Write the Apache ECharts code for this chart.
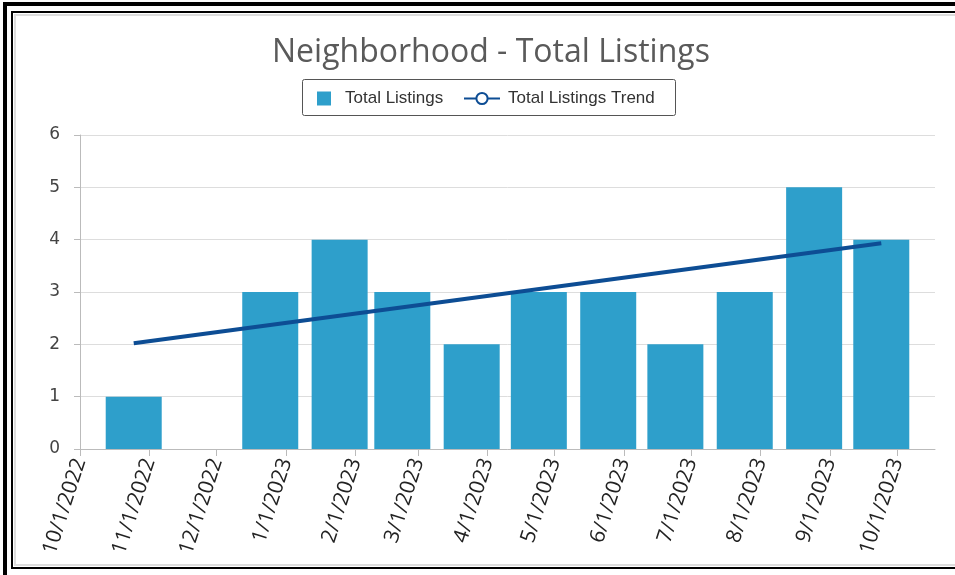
<!DOCTYPE html>
<html>
<head>
<meta charset="utf-8">
<script src="https://cdn.jsdelivr.net/npm/echarts@6/dist/echarts.min.js"></script>
<style>
  html, body { margin: 0; padding: 0; background: #fff; }
  #chart { width: 955px; height: 575px; }
</style>
</head>
<body>
<div id="chart"></div>
<script>
// monthly listings (bars) and the fitted trend line end points
const months = ['2022-11-01', '2022-12-01', '2023-01-01', '2023-02-01', '2023-03-01', '2023-04-01',
  '2023-05-01', '2023-06-01', '2023-07-01', '2023-08-01', '2023-09-01', '2023-10-01']
const totalListings = [1, 0, 3, 4, 3, 2, 3, 3, 2, 3, 5, 4]
const trendDates = ['2022-11-01', '2023-10-01']
const trendValues = [2.02, 3.93]
const yTicks = [0, 1, 2, 3, 4, 5, 6]

const axisStart = '2022-10-01'
const axisEnd = '2023-10-18'
// bars sit about a week left of their month tick in the source chart
const DAY = 86400000
const barShift = 7 * DAY

const barColor = '#2e9fcb'
const trendColor = '#0d4d94'

const toMs = s => +echarts.time.parse(s)

const chart = echarts.init(document.getElementById('chart'), null, { renderer: 'canvas' })

const barData = months.map((m, i) => [toMs(m), totalListings[i]]).filter(d => d[1] > 0)
const trendData = trendDates.map((d, i) => [toMs(d), trendValues[i]])

const option = {
  animation: false,
  backgroundColor: '#fff',
  title: {
    text: 'Neighborhood - Total Listings',
    left: 267,
    top: 32,
    textStyle: { fontFamily: 'Open Sans', fontWeight: 'normal', fontSize: 32, color: '#5a5a5a' }
  },
  legend: [
    {
      data: ['Total Listings'],
      left: 317, top: 90, padding: 0,
      itemWidth: 14, itemHeight: 14, icon: 'rect',
      textStyle: { fontFamily: 'Liberation Sans', fontSize: 17, color: '#333', padding: [0, 0, 0, 9] }
    },
    {
      data: ['Total Listings Trend'],
      left: 463, top: 90, padding: 0,
      itemWidth: 36, itemHeight: 14,
      textStyle: { fontFamily: 'Liberation Sans', fontSize: 17, color: '#333', padding: [0, 0, 0, 3] }
    }
  ],
  grid: { left: 80, right: 20, top: 135, bottom: 126 },
  xAxis: [
    {
      type: 'time',
      min: axisStart,
      max: axisEnd,
      minInterval: 28 * DAY,
      maxInterval: 31 * DAY,
      axisLine: { lineStyle: { color: '#bbb' } },
      axisTick: { show: true, length: 7, lineStyle: { color: '#bbb' } },
      axisLabel: {
        rotate: 72,
        margin: 10,
        formatter: '{M}/{d}/{yyyy}',
        fontFamily: 'Open Sans',
        fontSize: 21,
        color: '#222',
        hideOverlap: false
      },
      splitLine: { show: false }
    },
    {
      // plain value axis in ms, shifted by a week, so bars are not padded like on a time axis
      type: 'value',
      show: false,
      min: toMs(axisStart) + barShift,
      max: toMs(axisEnd) + barShift
    }
  ],
  yAxis: {
    type: 'value',
    min: yTicks[0],
    max: yTicks[yTicks.length - 1],
    interval: 1,
    axisLine: { show: true, lineStyle: { color: '#bbb' } },
    axisTick: { show: true, length: 6, lineStyle: { color: '#bbb' } },
    axisLabel: { fontFamily: 'DejaVu Sans', fontSize: 17, color: '#444', margin: 20 },
    splitLine: { lineStyle: { color: '#ddd' } }
  },
  series: [
    {
      name: 'Total Listings',
      type: 'bar',
      xAxisIndex: 1,
      barWidth: 56,
      itemStyle: { color: barColor },
      data: barData
    },
    {
      name: 'Total Listings Trend',
      type: 'line',
      xAxisIndex: 1,
      symbol: 'emptyCircle',
      symbolSize: 11,
      showSymbol: false,
      lineStyle: { color: trendColor, width: 4 },
      itemStyle: { color: trendColor, borderWidth: 1.5 },
      data: trendData
    }
  ],
  graphic: [
    // page frame around the chart
    { type: 'rect', shape: { x: 3, y: 2, width: 4, height: 575 }, style: { fill: '#000' }, silent: true },
    { type: 'rect', shape: { x: 3, y: 2, width: 955, height: 4 }, style: { fill: '#000' }, silent: true },
    { type: 'rect', shape: { x: 12, y: 12, width: 960, height: 556 }, style: { fill: 'none', stroke: '#000', lineWidth: 2 }, silent: true },
    { type: 'rect', shape: { x: 15, y: 15, width: 960, height: 550 }, style: { fill: 'none', stroke: '#ddd', lineWidth: 2 }, silent: true },
    // legend box
    { type: 'rect', shape: { x: 302.5, y: 79.5, width: 373, height: 36, r: 2 }, style: { fill: 'none', stroke: '#555', lineWidth: 1 }, silent: true }
  ]
}

chart.setOption(option)
</script>
</body>
</html>
